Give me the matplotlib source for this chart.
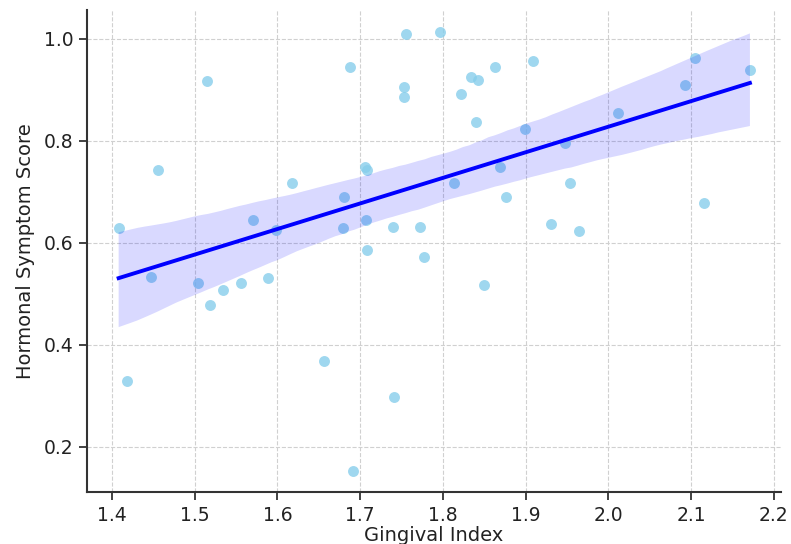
import numpy as np
import matplotlib
matplotlib.use("Agg")
import matplotlib.pyplot as plt
import seaborn as sns

# Values
gingival_index = [
    1.408, 1.418, 1.447, 1.455, 1.504, 1.515, 1.518, 1.534, 1.556, 1.570,
    1.589, 1.598, 1.618, 1.656, 1.679, 1.680, 1.688, 1.691, 1.706, 1.708,
    1.707, 1.708, 1.740, 1.741, 1.753, 1.753, 1.755, 1.772, 1.777, 1.796,
    1.813, 1.822, 1.834, 1.840, 1.842, 1.849, 1.863, 1.869, 1.876, 1.899,
    1.909, 1.930, 1.948, 1.954, 1.964, 2.012, 2.093, 2.105, 2.115, 2.171,
]
hormonal_score = [
    0.628, 0.328, 0.532, 0.743, 0.522, 0.918, 0.478, 0.507, 0.522, 0.645,
    0.531, 0.625, 0.718, 0.369, 0.628, 0.689, 0.945, 0.152, 0.748, 0.743,
    0.645, 0.586, 0.630, 0.298, 0.906, 0.886, 1.009, 0.631, 0.572, 1.013,
    0.717, 0.892, 0.926, 0.837, 0.919, 0.518, 0.945, 0.748, 0.689, 0.824,
    0.957, 0.636, 0.796, 0.718, 0.623, 0.855, 0.909, 0.963, 0.677, 0.938,
]

x_ticks = [1.4, 1.5, 1.6, 1.7, 1.8, 1.9, 2.0, 2.1, 2.2]
y_ticks = [0.2, 0.4, 0.6, 0.8, 1.0]

plt.rcParams['font.family'] = ['DejaVu Sans']

fig = plt.figure(figsize=(7.91, 5.44), dpi=100)
ax = fig.add_axes([0.1096, 0.095, 0.878, 0.8865])

# scatter first, then the regression line and its confidence band on top
sns.regplot(x=np.array(gingival_index), y=np.array(hormonal_score), ax=ax,
            ci=95, seed=3,
            scatter_kws={"color": "#87ceeb", "s": 62, "alpha": 0.8, "linewidths": 0},
            line_kws={"color": "blue", "linewidth": 2.8})

ax.set_xlim(1.3694, 2.2088)
ax.set_ylim(0.1106, 1.0563)
ax.set_xticks(x_ticks)
ax.set_yticks(y_ticks)
ax.set_xticklabels([f"{t:.1f}" for t in x_ticks])
ax.set_yticklabels([f"{t:.1f}" for t in y_ticks])

ax.grid(True, linestyle="--", color="#d0d0d0", linewidth=0.8)
ax.set_axisbelow(True)
for side in ["top", "right"]:
    ax.spines[side].set_visible(False)
for side in ["left", "bottom"]:
    ax.spines[side].set_color("#333333")
    ax.spines[side].set_linewidth(1.5)
ax.tick_params(axis="both", labelsize=13.5, length=6, width=1.3, color="#333333",
               labelcolor="#222222", direction="out")

ax.set_xlabel("Gingival Index", fontsize=14, color="#222222", labelpad=1)
ax.set_ylabel("Hormonal Symptom Score", fontsize=14, color="#222222", labelpad=6)

fig.savefig("out.png", dpi=100)
